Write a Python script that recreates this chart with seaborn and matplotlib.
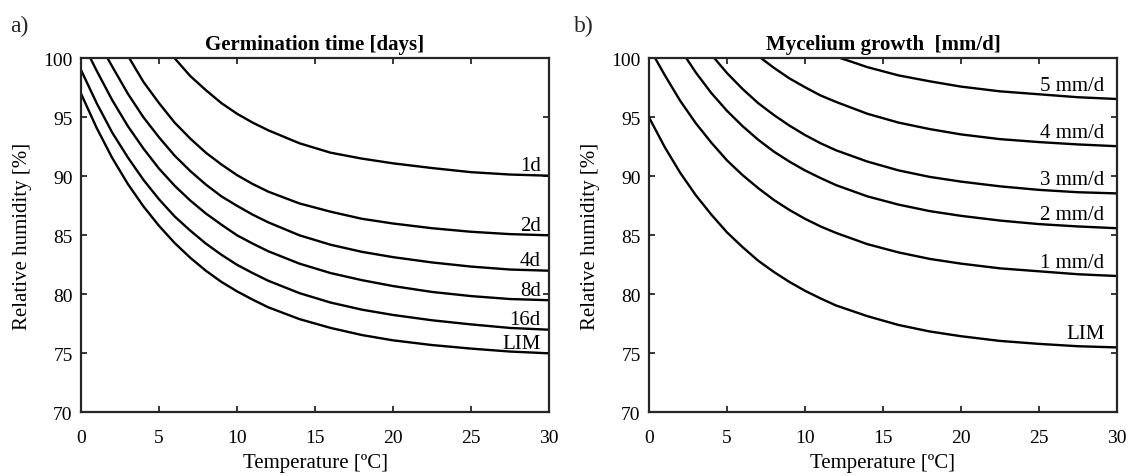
import matplotlib
matplotlib.use("Agg")
import matplotlib.pyplot as plt
import seaborn as sns
import pandas as pd

# ---- Germination time isopleths: temperature [°C] -> relative humidity [%] ----
germ_labels = ["1d", "2d", "4d", "8d", "16d", "LIM"]

germ_1d_t = [6.0, 6.5, 7, 7.5, 8, 8.5, 9, 10, 11, 12, 14, 16, 18, 20, 22.5, 25, 27.5, 30]
germ_1d_rh = [100.0, 99.25, 98.5, 97.9, 97.3, 96.75, 96.2, 95.3, 94.55, 93.9, 92.8, 92.0, 91.5, 91.1, 90.7, 90.35, 90.15, 90.05]

germ_2d_t = [3.1, 4, 5, 6, 7, 8, 9, 10, 11, 12, 14, 16, 18, 20, 22.5, 25, 27.5, 30]
germ_2d_rh = [100.0, 98.0, 96.2, 94.55, 93.2, 92.0, 91.0, 90.1, 89.35, 88.7, 87.7, 87.0, 86.4, 86.0, 85.6, 85.3, 85.1, 85.0]

germ_4d_t = [1.7, 2, 3, 4, 5, 6, 7, 8, 9, 10, 11, 12, 14, 16, 18, 20, 22.5, 25, 27.5, 30]
germ_4d_rh = [100.0, 99.3, 97.0, 95.0, 93.3, 91.75, 90.45, 89.3, 88.3, 87.5, 86.75, 86.1, 85.0, 84.2, 83.6, 83.15, 82.7, 82.35, 82.1, 82.0]

germ_8d_t = [0.6, 1, 2, 3, 4, 5, 6, 7, 8, 9, 10, 11, 12, 14, 16, 18, 20, 22.5, 25, 27.5, 30]
germ_8d_rh = [100.0, 98.95, 96.45, 94.25, 92.35, 90.65, 89.2, 87.95, 86.85, 85.9, 85.0, 84.3, 83.65, 82.6, 81.8, 81.2, 80.7, 80.2, 79.85, 79.6, 79.5]

germ_16d_t = [0, 1, 2, 3, 4, 5, 6, 7, 8, 9, 10, 11, 12, 14, 16, 18, 20, 22.5, 25, 27.5, 30]
germ_16d_rh = [99.0, 96.2, 93.7, 91.6, 89.7, 88.05, 86.6, 85.4, 84.3, 83.35, 82.5, 81.8, 81.15, 80.1, 79.3, 78.7, 78.25, 77.8, 77.45, 77.15, 77.0]

germ_lim_t = [0, 1, 2, 3, 4, 5, 6, 7, 8, 9, 10, 11, 12, 14, 16, 18, 20, 22.5, 25, 27.5, 30]
germ_lim_rh = [97.0, 94.1, 91.55, 89.35, 87.45, 85.8, 84.35, 83.1, 82.0, 81.05, 80.25, 79.55, 78.9, 77.9, 77.15, 76.55, 76.1, 75.7, 75.4, 75.15, 75.0]

# ---- Mycelium growth isopleths ----
myc_labels = ["5 mm/d", "4 mm/d", "3 mm/d", "2 mm/d", "1 mm/d", "LIM"]

myc_5_t = [12.3, 13, 14, 15, 16, 18, 20, 22.5, 25, 27.5, 30]
myc_5_rh = [100.0, 99.7, 99.25, 98.9, 98.55, 98.05, 97.6, 97.2, 96.95, 96.7, 96.55]

myc_4_t = [7.2, 8, 9, 10, 11, 12, 14, 16, 18, 20, 22.5, 25, 27.5, 30]
myc_4_rh = [100.0, 99.2, 98.3, 97.55, 96.85, 96.3, 95.3, 94.55, 94.0, 93.55, 93.15, 92.9, 92.7, 92.55]

myc_3_t = [4.2, 5, 6, 7, 8, 9, 10, 11, 12, 14, 16, 18, 20, 22.5, 25, 27.5, 30]
myc_3_rh = [100.0, 98.75, 97.4, 96.2, 95.2, 94.3, 93.5, 92.8, 92.2, 91.25, 90.5, 89.95, 89.55, 89.15, 88.85, 88.65, 88.55]

myc_2_t = [2.4, 3, 4, 5, 6, 7, 8, 9, 10, 11, 12, 14, 16, 18, 20, 22.5, 25, 27.5, 30]
myc_2_rh = [100.0, 98.8, 97.05, 95.55, 94.25, 93.1, 92.1, 91.25, 90.5, 89.85, 89.25, 88.3, 87.6, 87.05, 86.65, 86.25, 85.95, 85.75, 85.6]

myc_1_t = [0.4, 1, 2, 3, 4, 5, 6, 7, 8, 9, 10, 11, 12, 14, 16, 18, 20, 22.5, 25, 27.5, 30]
myc_1_rh = [100.0, 98.6, 96.4, 94.5, 92.85, 91.35, 90.1, 89.0, 88.0, 87.15, 86.4, 85.75, 85.2, 84.25, 83.55, 83.0, 82.6, 82.2, 81.95, 81.7, 81.55]

myc_lim_t = [0, 1, 2, 3, 4, 5, 6, 7, 8, 9, 10, 11, 12, 14, 16, 18, 20, 22.5, 25, 27.5, 30]
myc_lim_rh = [95.0, 92.5, 90.3, 88.4, 86.75, 85.25, 84.0, 82.85, 81.9, 81.05, 80.3, 79.65, 79.05, 78.15, 77.4, 76.85, 76.45, 76.05, 75.8, 75.6, 75.5]

x_ticks = [0, 5, 10, 15, 20, 25, 30]
y_ticks = [70, 75, 80, 85, 90, 95, 100]

germ_curves = [(germ_1d_t, germ_1d_rh), (germ_2d_t, germ_2d_rh), (germ_4d_t, germ_4d_rh),
               (germ_8d_t, germ_8d_rh), (germ_16d_t, germ_16d_rh), (germ_lim_t, germ_lim_rh)]
myc_curves = [(myc_5_t, myc_5_rh), (myc_4_t, myc_4_rh), (myc_3_t, myc_3_rh),
              (myc_2_t, myc_2_rh), (myc_1_t, myc_1_rh), (myc_lim_t, myc_lim_rh)]

sns.set_theme(style="white")
plt.rcParams["font.family"] = ["Liberation Serif", "DejaVu Serif"]

INK = "#262626"

fig = plt.figure(figsize=(11.32, 4.77), dpi=100)
ax_a = fig.add_axes([0.0716, 0.1335, 0.4134, 0.7422])
ax_b = fig.add_axes([0.5733, 0.1335, 0.4134, 0.7422])


def draw_panel(ax, curves, labels, title, label_dx, label_dy):
    for (t, rh), lab in zip(curves, labels):
        df = pd.DataFrame({"Temperature": t, "RH": rh})
        sns.lineplot(data=df, x="Temperature", y="RH", ax=ax, color="black",
                     linewidth=1.7, sort=False, estimator=None)
        ax.annotate(lab, xy=(t[-1], rh[-1]), xytext=(label_dx, label_dy),
                    textcoords="offset points", ha="right", va="bottom",
                    fontsize=15, color="black")
    ax.set_xlim(0, 30)
    ax.set_ylim(70, 100)
    ax.set_xticks(x_ticks)
    ax.set_yticks(y_ticks)
    ax.tick_params(direction="in", length=4, width=1.3, colors=INK,
                   labelsize=14, top=True, right=True, bottom=True, left=True,
                   labeltop=False, labelright=False)
    ax.tick_params(axis="x", labelcolor="black", pad=12)
    ax.tick_params(axis="y", labelcolor="black", pad=6)
    for side in ["left", "bottom", "top", "right"]:
        ax.spines[side].set_visible(True)
        ax.spines[side].set_color(INK)
        ax.spines[side].set_linewidth(1.6)
    ax.set_xlabel("Temperature [ºC]", fontsize=15, color="black", labelpad=5)
    ax.set_ylabel("Relative humidity [%]", fontsize=15, color="black", labelpad=8)
    ax.set_title(title, fontsize=15, fontweight="bold", color="black", pad=7)


draw_panel(ax_a, germ_curves, germ_labels, "Germination time [days]", -6, 0.3)
draw_panel(ax_b, myc_curves, myc_labels, "Mycelium growth  [mm/d]", -9, 3.0)

fig.text(0.009, 0.945, "a)", fontsize=17, va="center", ha="left")
fig.text(0.507, 0.945, "b)", fontsize=17, va="center", ha="left")

fig.savefig("out.png", dpi=100)
